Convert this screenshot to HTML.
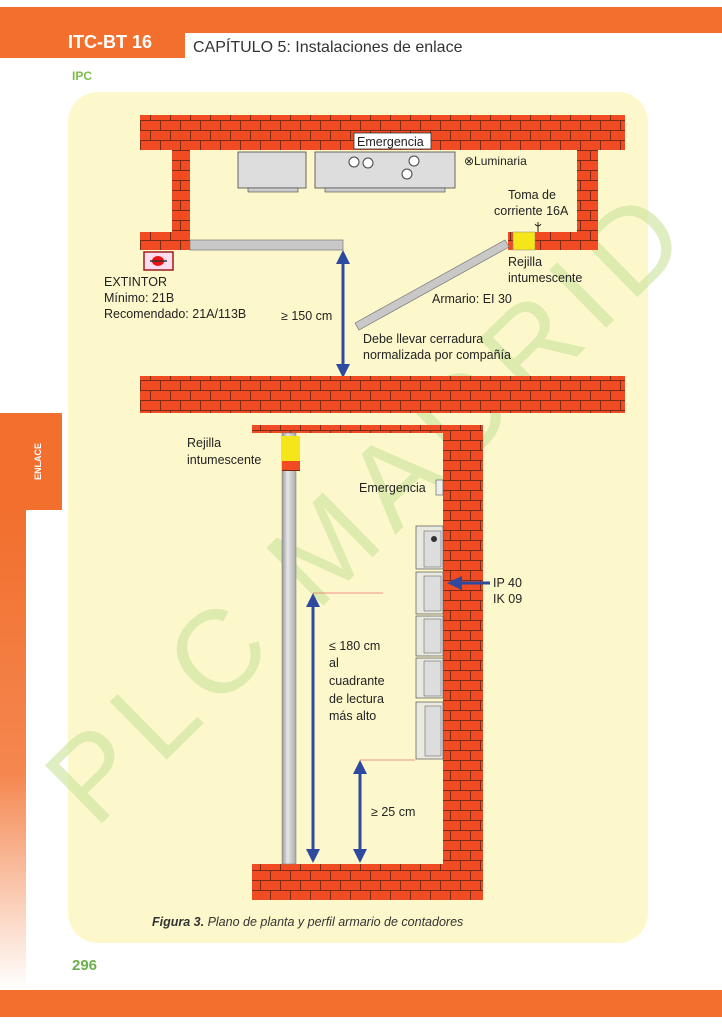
<!DOCTYPE html>
<html><head><meta charset="utf-8"><style>
body{margin:0;width:722px;height:1024px;overflow:hidden;background:#fff;font-family:"Liberation Sans",sans-serif}
svg{position:absolute;left:0;top:0}
</style></head><body>
<svg width="722" height="1024" viewBox="0 0 722 1024" xmlns="http://www.w3.org/2000/svg" font-family="Liberation Sans, sans-serif">
<defs>
<pattern id="br" width="40" height="20" patternUnits="userSpaceOnUse">
<rect width="40" height="20" fill="#f04b23"/>
<path d="M0 0.5H40M0 10.5H40M0.5 0V10M20.5 0V10M10.5 10V20M30.5 10V20" stroke="#7a2a15" stroke-width="1" fill="none"/>
</pattern>
<linearGradient id="fade" x1="0" y1="0" x2="0" y2="1">
<stop offset="0" stop-color="#f26f2e"/><stop offset="0.55" stop-color="#f4874f"/><stop offset="1" stop-color="#fff"/>
</linearGradient>
<linearGradient id="pipe" x1="0" x2="1"><stop offset="0" stop-color="#999"/><stop offset="0.4" stop-color="#e6e6e6"/><stop offset="1" stop-color="#aaa"/></linearGradient>
</defs>
<!-- header -->
<rect x="0" y="7" width="722" height="26" fill="#f26f2e"/>
<rect x="0" y="7" width="185" height="51" fill="#f26f2e"/>
<text x="68" y="48" fill="#fff" font-size="18" font-weight="bold">ITC-BT 16</text>
<text x="193" y="52" fill="#333" font-size="16">CAPÍTULO 5: Instalaciones de enlace</text>
<text x="72" y="80" fill="#7bbf4a" font-size="12" font-weight="bold">IPC</text>
<!-- side -->
<rect x="0" y="413" width="62" height="97" fill="#f26f2e"/>
<rect x="0" y="510" width="26" height="480" fill="url(#fade)"/>
<text transform="translate(41,480) rotate(-90)" fill="#fff" font-size="9" font-weight="bold">ENLACE</text>
<rect x="0" y="990" width="722" height="27" fill="#f26f2e"/>
<text x="72" y="970" fill="#6ab04c" font-size="15" font-weight="bold">296</text>
<!-- panel -->
<rect x="68" y="92" width="580" height="851" rx="30" fill="#fdf8cc"/>
<!-- watermark -->
<text transform="translate(95,830) rotate(-44.5)" fill="#c8e39a" fill-opacity="0.6" font-size="118" letter-spacing="12">PLC MADRID</text>
<!-- top plan walls -->
<rect x="140" y="115" width="485" height="35" fill="url(#br)"/>
<rect x="172" y="150" width="18" height="85" fill="url(#br)"/>
<rect x="140" y="232" width="50" height="18" fill="url(#br)"/>
<rect x="577" y="150" width="21" height="85" fill="url(#br)"/>
<rect x="508" y="232" width="90" height="18" fill="url(#br)"/>
<rect x="513" y="232" width="22" height="18" fill="#f5e61a" stroke="#888" stroke-width="0.5"/>
<rect x="190" y="240" width="153" height="10" fill="#c8c8c8" stroke="#777" stroke-width="0.7"/>
<rect x="144" y="252" width="29" height="18" fill="#fde" stroke="#9b1c1c" stroke-width="1.5"/>
<ellipse cx="158" cy="261" rx="6" ry="5" fill="#e11"/><line x1="150" y1="261" x2="167" y2="261" stroke="#333" stroke-width="1.5"/>
<!-- luminaires -->
<rect x="238" y="152" width="68" height="36" fill="#ddd" stroke="#444" stroke-width="0.8"/>
<rect x="248" y="188" width="50" height="4" fill="#ccc" stroke="#444" stroke-width="0.6"/>
<rect x="315" y="152" width="140" height="36" fill="#ddd" stroke="#444" stroke-width="0.8"/>
<rect x="325" y="188" width="120" height="4" fill="#ccc" stroke="#444" stroke-width="0.6"/>
<circle cx="354" cy="162" r="5" fill="#fff" stroke="#444"/><circle cx="368" cy="163" r="5" fill="#fff" stroke="#444"/>
<circle cx="414" cy="161" r="5" fill="#fff" stroke="#444"/><circle cx="407" cy="174" r="5" fill="#fff" stroke="#444"/>
<rect x="354" y="133" width="77" height="16" fill="#fff" stroke="#333" stroke-width="0.8"/>
<text x="357" y="146" font-size="12.5" fill="#222">Emergencia</text>
<text x="464" y="165" font-size="12" fill="#222">⊗Luminaria</text>
<text x="508" y="199" font-size="12.5" fill="#222">Toma de</text>
<text x="494" y="215" font-size="12.5" fill="#222">corriente 16A</text>
<path d="M538 222v10M535 224q3 4 6 0" stroke="#222" fill="none"/>
<text x="508" y="266" font-size="12.5" fill="#222">Rejilla</text>
<text x="508" y="282" font-size="12.5" fill="#222">intumescente</text>
<polygon points="355,323 505,240 509,247 359,330" fill="#c8c8c8" stroke="#777" stroke-width="0.7"/>
<text x="432" y="303" font-size="12.5" fill="#222">Armario: EI 30</text>
<text x="363" y="343" font-size="12.5" fill="#222">Debe llevar cerradura</text>
<text x="363" y="359" font-size="12.5" fill="#222">normalizada por compañía</text>
<text x="104" y="286" font-size="12.5" fill="#222">EXTINTOR</text>
<text x="104" y="302" font-size="12.5" fill="#222">Mínimo: 21B</text>
<text x="104" y="318" font-size="12.5" fill="#222">Recomendado: 21A/113B</text>
<text x="281" y="320" font-size="12.5" fill="#222">≥ 150 cm</text>
<line x1="343" y1="262" x2="343" y2="366" stroke="#2e4a9e" stroke-width="3"/>
<polygon points="343,250 336,264 350,264" fill="#2e4a9e"/><polygon points="343,378 336,364 350,364" fill="#2e4a9e"/>
<rect x="140" y="376" width="485" height="37" fill="url(#br)"/>
<!-- profile -->
<rect x="252" y="425" width="231" height="8" fill="url(#br)"/>
<rect x="443" y="425" width="40" height="475" fill="url(#br)"/>
<rect x="252" y="864" width="231" height="36" fill="url(#br)"/>
<rect x="282" y="433" width="14" height="431" fill="url(#pipe)" stroke="#777" stroke-width="0.5"/>
<rect x="282" y="436" width="18" height="25" fill="#f5e61a"/>
<rect x="282" y="461" width="18" height="10" fill="url(#br)"/>
<text x="187" y="447" font-size="12.5" fill="#222">Rejilla</text>
<text x="187" y="464" font-size="12.5" fill="#222">intumescente</text>
<text x="359" y="492" font-size="12.5" fill="#222">Emergencia</text>
<rect x="436" y="480" width="7" height="15" fill="#eee" stroke="#555" stroke-width="0.6"/>
<g fill="#e9e9e0" stroke="#555" stroke-width="0.7">
<rect x="416" y="526" width="27" height="43"/><rect x="416" y="572" width="27" height="42"/><rect x="416" y="616" width="27" height="40"/><rect x="416" y="658" width="27" height="40"/><rect x="416" y="702" width="27" height="57"/>
</g>
<g fill="#ddd" stroke="#555" stroke-width="0.5">
<rect x="424" y="531" width="17" height="36"/><rect x="424" y="576" width="17" height="35"/><rect x="424" y="619" width="17" height="34"/><rect x="424" y="661" width="17" height="35"/><rect x="425" y="706" width="16" height="50"/>
</g>
<circle cx="434" cy="539" r="3" fill="#333"/>
<line x1="455" y1="583" x2="490" y2="583" stroke="#2e4a9e" stroke-width="3"/>
<polygon points="447,583 462,576 462,590" fill="#2e4a9e"/>
<text x="493" y="587" font-size="12.5" fill="#222">IP 40</text>
<text x="493" y="603" font-size="12.5" fill="#222">IK 09</text>
<line x1="313" y1="593" x2="383" y2="593" stroke="#f07070" stroke-width="0.8"/>
<line x1="360" y1="760" x2="415" y2="760" stroke="#f07070" stroke-width="0.8"/>
<line x1="313" y1="604" x2="313" y2="852" stroke="#2e4a9e" stroke-width="3"/>
<polygon points="313,593 306,607 320,607" fill="#2e4a9e"/><polygon points="313,863 306,849 320,849" fill="#2e4a9e"/>
<line x1="360" y1="772" x2="360" y2="852" stroke="#2e4a9e" stroke-width="3"/>
<polygon points="360,760 353,774 367,774" fill="#2e4a9e"/><polygon points="360,863 353,849 367,849" fill="#2e4a9e"/>
<text x="329" y="650" font-size="12.5" fill="#222">≤  180 cm</text>
<text x="329" y="667" font-size="12.5" fill="#222">al</text>
<text x="329" y="685" font-size="12.5" fill="#222">cuadrante</text>
<text x="329" y="703" font-size="12.5" fill="#222">de lectura</text>
<text x="329" y="720" font-size="12.5" fill="#222">más alto</text>
<text x="371" y="816" font-size="12.5" fill="#222">≥ 25 cm</text>
<text x="152" y="926" font-size="12.5" fill="#333" font-style="italic"><tspan font-weight="bold">Figura 3.</tspan> Plano de planta y perfil armario de contadores</text>
</svg>
</body></html>
